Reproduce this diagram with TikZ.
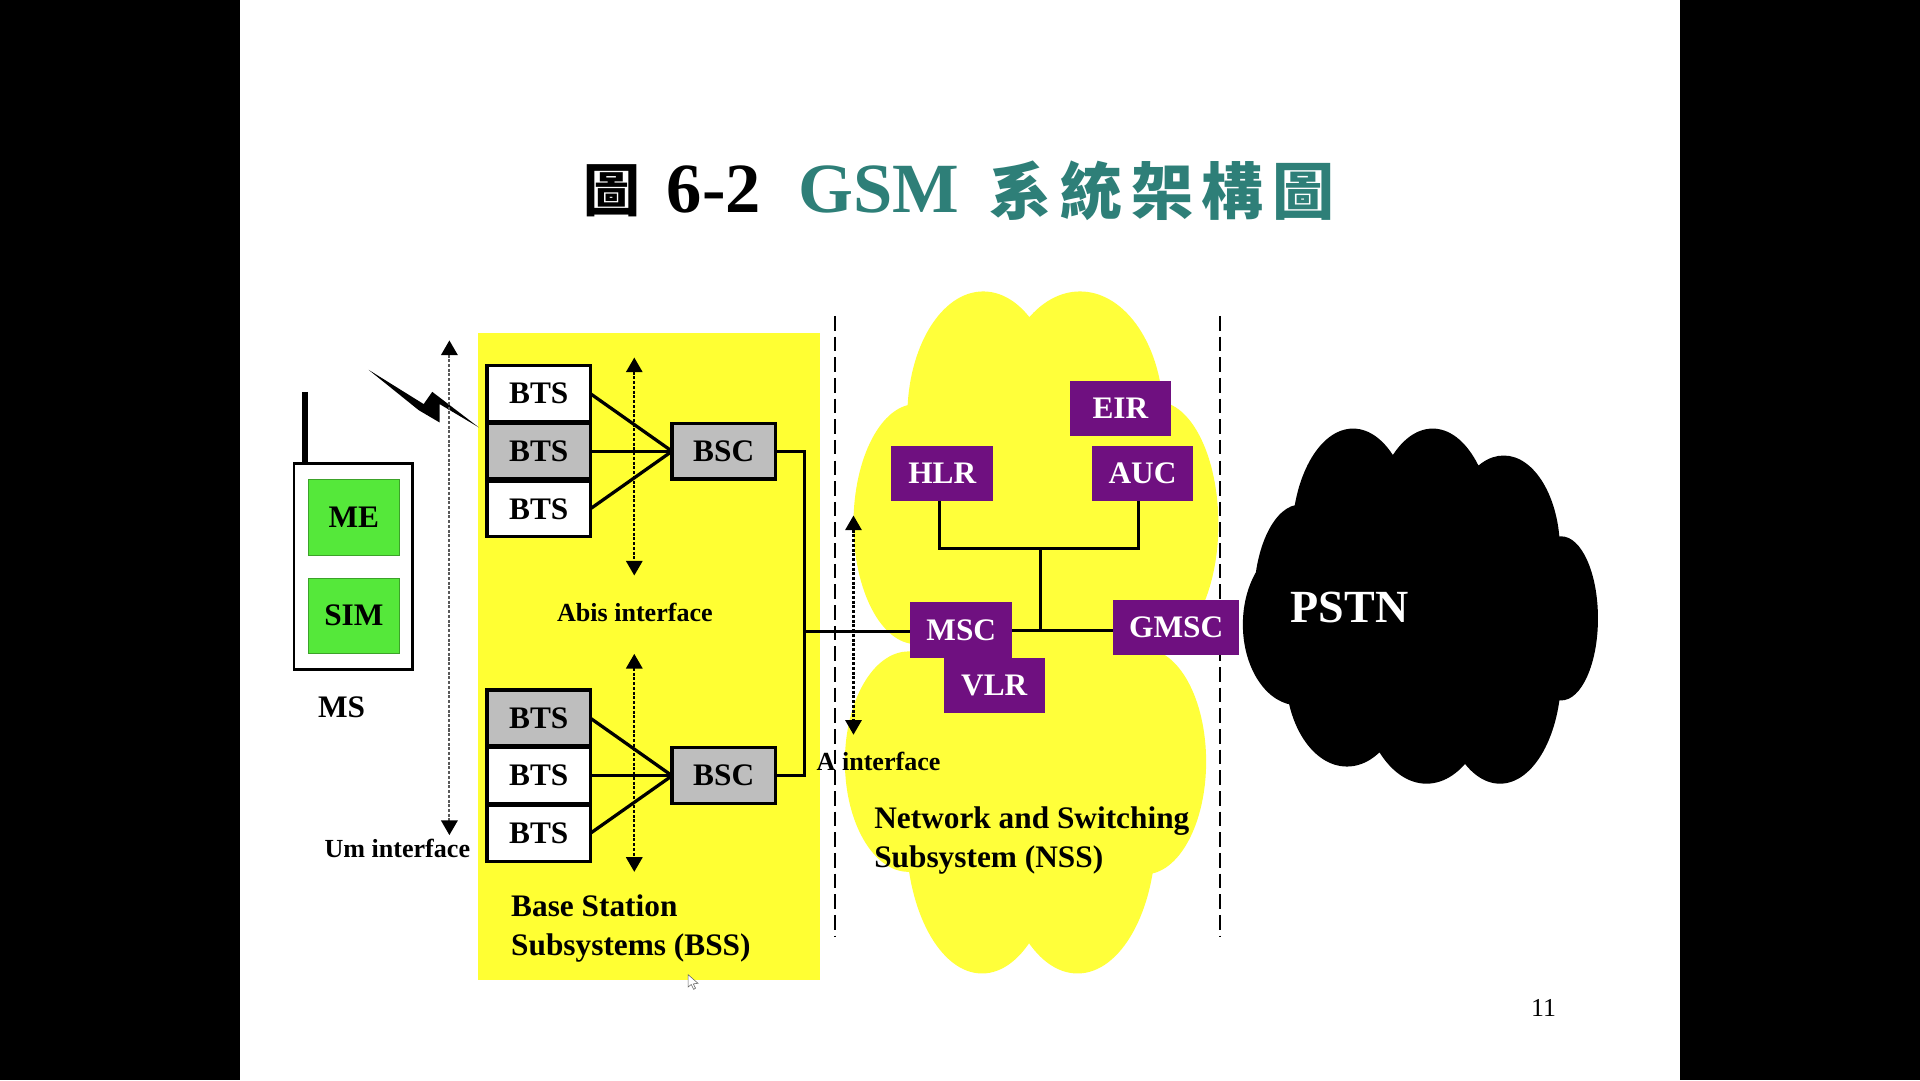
\documentclass[tikz,border=0pt]{standalone}
\usepackage{fontspec}
\setmainfont{Liberation Serif}
\newfontfamily\cjkfont{Noto Sans CJK TC}
\usetikzlibrary{arrows.meta}
\definecolor{titleteal}{HTML}{2E7F78}
\definecolor{boxgray}{HTML}{BEBEBE}
\definecolor{mspurple}{HTML}{6F1080}
\definecolor{megreen}{HTML}{55E83A}
\definecolor{bssyellow}{HTML}{FFFF33}
\definecolor{cloudyellow}{HTML}{FFFF3A}
\tikzset{
  x=0.05cm,y=-0.05cm,
  every node/.style={inner sep=0pt,outer sep=0pt},
  btxt/.style={font=\bfseries\fontsize{36.4}{40}\selectfont},
  smalltxt/.style={font=\bfseries\fontsize{30.3}{34}\selectfont},
  sys/.style={font=\bfseries\fontsize{36.4}{45.5}\selectfont,align=left},
  whitebox/.style={btxt,draw=black,line width=4pt,fill=white,minimum width=120pt,minimum height=65pt},
  graybox/.style={whitebox,fill=boxgray},
  purplebox/.style={btxt,text=white,fill=mspurple,minimum width=118pt,minimum height=64pt},
  greenbox/.style={btxt,fill=megreen,draw=megreen!70!black,line width=1pt,minimum width=105pt,minimum height=88pt},
  conn/.style={line width=3.8pt,black},
  iface/.style={line width=2.4pt,dash pattern=on 3.5pt off 2pt,{Triangle[width=19pt,length=17pt]}-{Triangle[width=19pt,length=17pt]}},
  bound/.style={line width=2.2pt,black,dash pattern=on 17pt off 7pt},
}
\begin{document}
\begin{tikzpicture}
\useasboundingbox (0,0) rectangle (1568,882);
\fill[black] (0,0) rectangle (1568,882);
\fill[white] (196,0) rectangle (1372,882);

% title
\node[font=\cjkfont\bfseries\fontsize{66}{70}\selectfont,anchor=center] (t1) at (500,156) {圖};
\node[font=\bfseries\fontsize{82}{90}\selectfont] (t2) at (583,155) {6-2};
\node[font=\bfseries\fontsize{82}{90}\selectfont,text=titleteal] (t3) at (718,155) {GSM};
\node[font=\cjkfont\bfseries\fontsize{72}{78}\selectfont,text=titleteal] (t4) at (949,156) {系\kern10pt統\kern10pt架\kern10pt構\kern10pt圖};

% BSS area
\fill[bssyellow] (390,272) rectangle (670,800);

% NSS cloud
\fill[cloudyellow]
  (803,340) ellipse [x radius=62,y radius=102]
  (882,340) ellipse [x radius=68,y radius=102]
  (748,428) ellipse [x radius=51,y radius=98]
  (945,428) ellipse [x radius=50,y radius=100]
  (742,622) ellipse [x radius=52,y radius=90]
  (935,622) ellipse [x radius=50,y radius=92]
  (802,680) ellipse [x radius=62,y radius=115]
  (880,680) ellipse [x radius=64,y radius=115];
\fill[cloudyellow] (745,400) rectangle (950,700);

% PSTN cloud
\fill[black]
  (1105,440) ellipse [x radius=50,y radius=90]
  (1170,440) ellipse [x radius=50,y radius=90]
  (1228,450) ellipse [x radius=46,y radius=78]
  (1062,490) ellipse [x radius=38,y radius=78]
  (1275,505) ellipse [x radius=30,y radius=67]
  (1060,510) ellipse [x radius=45,y radius=66]
  (1100,550) ellipse [x radius=50,y radius=76]
  (1165,550) ellipse [x radius=55,y radius=90]
  (1225,550) ellipse [x radius=50,y radius=90];
\fill[black] (1080,430) rectangle (1250,570);

% boundaries
\coordinate (d1a) at (682,258); \coordinate (d1b) at (682,765);
\coordinate (d2a) at (996,258); \coordinate (d2b) at (996,765);
\draw[bound] (d1a) -- (d1b);
\draw[bound] (d2a) -- (d2b);

% MS
\coordinate (antTop) at (249,320);
\node[draw=black,line width=3.2pt,fill=white,minimum width=138pt,minimum height=239pt] (ms) at (288.5,462.5) {};
\draw[line width=7pt] (antTop) -- (antTop |- ms.north);
\node[greenbox] (me) at (289,422.5) {\raisebox{1pt}{ME}};
\node[greenbox] (sim) at (289,503) {\raisebox{1pt}{SIM}};
\node[btxt] (mslabel) at (279,578) {MS};

% radio bolt
\fill[black] (301,302) -- (346,330) -- (353,320) -- (391,349) -- (359,330) -- (359,345) -- (342,335) -- cycle;

% BTS and BSC
\node[whitebox] (a1) at (440,321.5) {BTS};
\node[graybox]  (a2) at (440,368.5) {BTS};
\node[whitebox] (a3) at (440,415.5) {BTS};
\node[graybox]  (b1) at (440,586.5) {BTS};
\node[whitebox] (b2) at (440,633.5) {BTS};
\node[whitebox] (b3) at (440,680.5) {BTS};
\node[graybox]  (bsc1) at (591,368.5) {BSC};
\node[graybox]  (bsc2) at (591,633.5) {BSC};
\draw[conn] (a1.east) -- (bsc1.west);
\draw[conn] (a2.east) -- (bsc1.west);
\draw[conn] (a3.east) -- (bsc1.west);
\draw[conn] (b1.east) -- (bsc2.west);
\draw[conn] (b2.east) -- (bsc2.west);
\draw[conn] (b3.east) -- (bsc2.west);

% NSS nodes
\node[purplebox] (eir) at (915,333.5) {EIR};
\node[purplebox] (hlr) at (769.5,386.5) {HLR};
\node[purplebox] (auc) at (933,386.5) {AUC};
\node[purplebox] (vlr) at (812,559.5) {VLR};
\node[purplebox] (msc) at (785,514.5) {MSC};
\node[purplebox,minimum width=146pt] (gmsc) at (960.5,512.5) {GMSC};

\coordinate (busa) at (657,515.5);
\coordinate (busb) at (850,448);
\draw[conn] (bsc1.east) -| (busa);
\draw[conn] (bsc2.east) -| (busa);
\draw[conn] (busa) -- (busa -| msc.west);
\draw[conn] (hlr.south -| 767,0) |- (busb);
\draw[conn] (auc.south -| 930,0) |- (busb);
\coordinate (busc) at (850,515);
\draw[conn] (busb) -- (busc);
\draw[conn] (busc -| msc.east) -- (busc -| gmsc.west);

% interface arrows
\coordinate (umA) at (367,278); \coordinate (umB) at (367,682);
\coordinate (abA) at (518,292); \coordinate (abB) at (518,470);
\coordinate (abC) at (518,534); \coordinate (abD) at (518,712);
\coordinate (aiA) at (697,421); \coordinate (aiB) at (697,600);
\draw[iface,draw=black!65,{Triangle[width=19pt,length=17pt,black]}-{Triangle[width=19pt,length=17pt,black]}] (umA) -- (umB);
\draw[iface] (abA) -- (abB);
\draw[iface] (abC) -- (abD);
\draw[iface] (aiA) -- (aiB);

% labels
\node[smalltxt] (abis) at (518.5,500) {Abis interface};
\node[smalltxt] (um) at (324.5,693) {Um interface};
\node[smalltxt] (ai) at (717.5,622) {A interface};
\node[sys,anchor=west] (bss) at (417.5,758.5) {Base Station\\Subsystems (BSS)};
\node[sys,anchor=west] (nss) at (714,686.5) {Network and Switching\\Subsystem (NSS)};
\node[font=\bfseries\fontsize{53.5}{58}\selectfont,text=white] (pstn) at (1102,496) {PSTN};
\node[font=\fontsize{30}{32}\selectfont] (pg) at (1260.5,823) {11};

% pointer
\draw[black!60,fill=white,line width=0.7pt] (562,796) -- (562,806) -- (564.5,804) -- (566.5,808) -- (568,807) -- (566.2,803.5) -- (570,803) -- cycle;
\end{tikzpicture}
\end{document}
